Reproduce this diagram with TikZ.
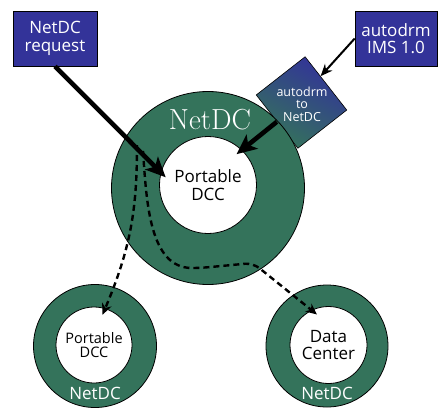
\documentclass[tikz,border=0pt]{standalone}
\usepackage{fontspec}
\setsansfont{Open Sans}
\usetikzlibrary{arrows.meta}
\definecolor{ringgreen}{RGB}{52,115,91}
\definecolor{boxblue}{RGB}{51,51,153}

\begin{document}
\begin{tikzpicture}
    [
      x=1pt,
      y=-1pt,
      ring/.style={circle,draw=black,line width=0.8pt,fill=ringgreen},
      hole/.style={circle,draw=black,line width=0.8pt,fill=white,inner sep=0pt,align=center,font=\sffamily\fontsize{17}{17.5}\selectfont},
      src/.style={rectangle,draw=black,line width=0.6pt,fill=boxblue,text=white,align=center,minimum height=55pt,font=\sffamily\fontsize{17}{17.5}\selectfont},
      ringname/.style={text=white,font=\sffamily\fontsize{17}{17}\selectfont},
      bigflow/.style={line width=4.6pt,-{Stealth[length=20pt,width=18pt,inset=5pt]}},
      thinflow/.style={line width=2pt,-{Stealth[length=12pt,width=10pt]}},
      dashflow/.style={line width=2.4pt,dash pattern=on 6pt off 4pt,-{Stealth[length=11pt,width=10pt]}},
    ]
    \useasboundingbox (0, 0) rectangle (438, 407);

    \node at (55, 38.5)  [src, minimum width=84pt] (req) {NetDC\\request};
    \node at (396, 38.5) [src, minimum width=82pt] (ims) {autodrm\\IMS 1.0};

    \node at (301.5, 102.5) [rectangle, draw=black, line width=0.6pt, rotate=-52,
      minimum width=67.6pt, minimum height=62pt, inner sep=0pt,
      top color=boxblue, bottom color=ringgreen, shading angle=-30] (conv) {};
    \node at (302, 104) [text=white, align=center, font=\sffamily\fontsize{12.5}{12.5}\selectfont] (convtxt) {autodrm\\to\\NetDC};

    \node at (208, 188) [ring, minimum size=193pt] (main) {};
    \node at (208, 185) [hole, minimum size=97pt] (dcc) {Portable\\DCC};
    \node at (210, 120) [text=white, font=\rmfamily\fontsize{29}{29}\selectfont] (mainname) {NetDC};

    \node at (95, 346)    [ring, minimum size=123pt] (left) {};
    \node at (94, 345)    [hole, minimum size=76pt, font=\sffamily\fontsize{14.5}{14.5}\selectfont] (pdcc) {Portable\\DCC};
    \node at (95, 393)    [ringname] (leftname) {NetDC};
    \node at (327, 346)   [ring, minimum size=122pt] (right) {};
    \node at (328.5, 345) [hole, minimum size=77pt] (ddc) {Data\\Center};
    \node at (327, 393)   [ringname] (rightname) {NetDC};

    \coordinate (fork1) at (137, 145);
    \coordinate (fork2) at (143, 151);

    \draw[bigflow, shorten >=-7pt] (req.south) -- (dcc.165);
    \draw[bigflow, shorten >=-7pt] (conv.south) -- (dcc.46);
    \draw[thinflow] (ims.west) -- (conv.106);

    \draw[dashflow, shorten >=-7pt] (fork1) to [out=-90, in=67] (pdcc.73);
    \draw[dashflow, shorten >=-7pt, rounded corners=8pt] (fork2) to [out=-86, in=180] (200, 268) -- (253, 263) -- (ddc.116);
  \end{tikzpicture}
\end{document}
